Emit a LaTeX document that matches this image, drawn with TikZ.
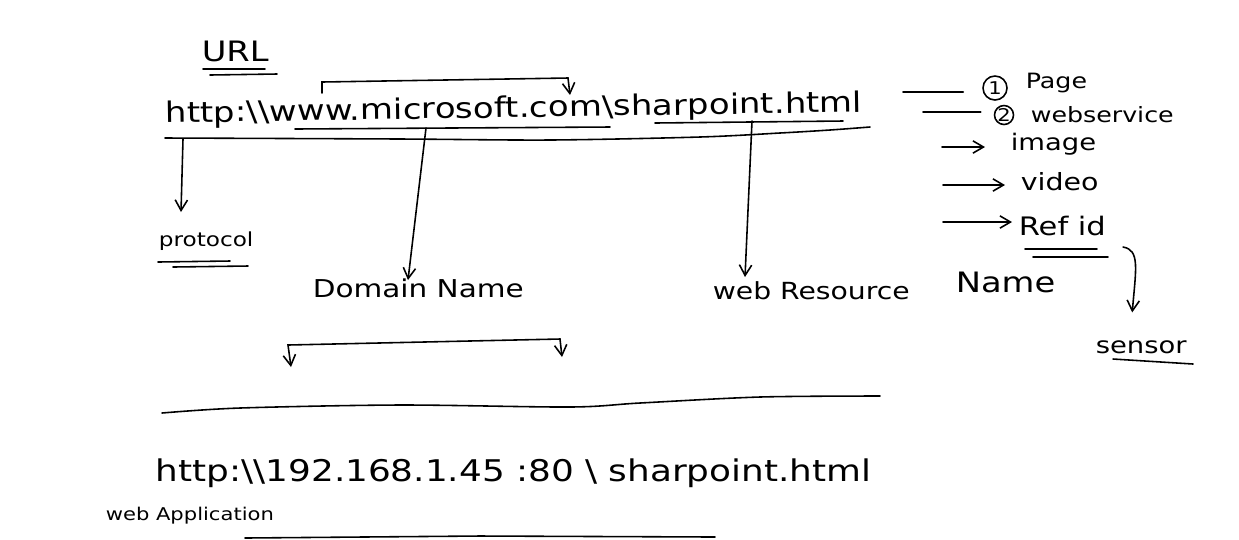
\documentclass[tikz,border=0pt]{standalone}
\usepackage{fontspec}
\setmainfont{DejaVu Sans}[FakeStretch=1.2]
\usetikzlibrary{arrows.meta,calc}
\begin{document}
\begin{tikzpicture}[x=0.02cm,y=-0.02cm,line width=0.9pt,line cap=round,
        >={Straight Barb[length=6pt,width=7pt]},
        txt/.style={anchor=base west,inner sep=0pt},
        fs/.style={txt,font=\fontsize{#1}{#1}\selectfont},
        circ/.style={circle,draw,inner sep=0pt,minimum size=#1,
            font=\fontsize{10}{11}\selectfont}]
    \useasboundingbox (0,0) rectangle (1239,539);
    % top url and its parts
    \node[fs=16] (head) at (201,61) {URL};
    \draw (203,69) -- (265,69);
    \draw (210,75) -- (277,74);
    \node[fs=16.1,rotate=0.9] (link) at (165,123) {http:\textbackslash\textbackslash www.microsoft.com\textbackslash sharpoint.html};
    \coordinate (www) at (322,93);
    \coordinate (com) at (570,95);
    \draw[->] (www) -- (322,82) -- (568,78) -- (com);
    \draw (295,129) -- (450,128) -- (610,127);
    \draw (655,123) -- (843,121);
    \draw plot[smooth] coordinates {(165,138) (400,139) (550,140) (700,137) (780,133) (830,130) (870,127)};
    \coordinate (pr) at (183,139);
    \coordinate (dn) at (426,128);
    \coordinate (wr) at (752,121);
    \node[fs=11] (proto) at (158,246) {protocol};
    \draw (158,262) -- (230,261);
    \draw (173,267) -- (248,266);
    \node[fs=14] (dom) at (312,297) {Domain Name};
    \node[fs=13.4] (res) at (712,299) {web Resource};
    \node[fs=16] (nm) at (955,292) {Name};
    \draw[->] (pr) -- ($(proto.base west)+(23,-34)$);
    \draw[->] (dn) -- ($(dom.base west)+(96,-17)$);
    \draw[->] (wr) -- ($(res.base west)+(33,-22)$);
    % kinds of resource
    \node[circ=0.48cm] (n1) at (995,88) {1};
    \node[fs=12] (page) at (1025,88) {Page};
    \node[circ=0.38cm] (n2) at (1004,115) {2};
    \node[fs=12] (ws) at (1030,122) {webservice};
    \node[fs=13] (img) at (1010,150) {image};
    \node[fs=13.5] (vid) at (1020,190) {video};
    \node[fs=14.5] (ref) at (1018,235) {Ref id};
    \draw (903,92) -- ($(n1.west)+(-19,4)$);
    \draw (923,112) -- ($(n2.west)+(-13,-3)$);
    \draw[->] (942,147) -- ($(img.base west)+(-25,-3)$);
    \draw[->] (943,185) -- ($(vid.base west)+(-15,-5)$);
    \draw[->] (943,222) -- ($(ref.base west)+(-6,-13)$);
    \draw (1025,249) -- (1097,249);
    \draw (1033,257) -- (1108,257);
    \node[fs=13] (sen) at (1095,353) {sensor};
    \draw (1113,359) -- (1193,364);
    \draw[->] (1123,247) .. controls (1140,250) and (1136,268) .. ($(sen.north)+(-9,-27)$);
    % lower part
    \draw[<->] (291,367) -- (288,345) -- (560,339) -- (562,357);
    \draw plot[smooth] coordinates {(162,413) (240,408) (400,405) (570,407) (640,403) (760,397) (880,396)};
    \node[fs=17] (ip) at (155,481) {http:\textbackslash\textbackslash 192.168.1.45 :80 \textbackslash{} sharpoint.html};
    \node[fs=10] (app) at (105,520) {web Application};
    \draw (245,538) -- (480,536) -- (715,537);
\end{tikzpicture}
\end{document}
